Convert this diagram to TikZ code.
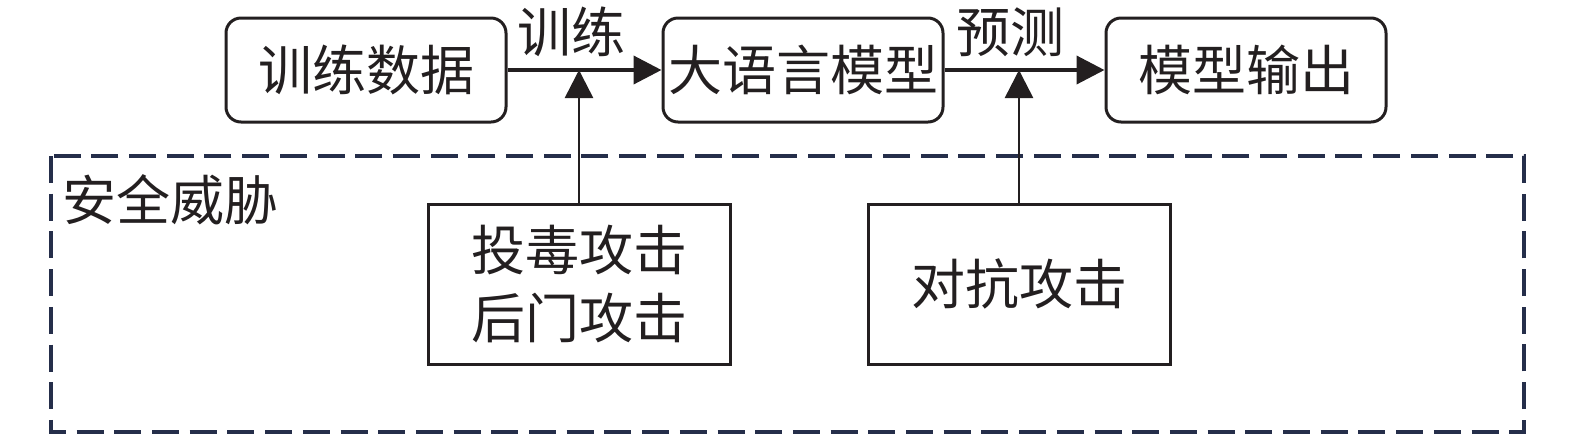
\documentclass[tikz,border=0pt]{standalone}
\usepackage{fontspec}
\setmainfont{Noto Sans CJK SC}
\usetikzlibrary{arrows.meta}
\definecolor{navy}{HTML}{252E4A}
\definecolor{ink}{HTML}{231F20}
\tikzset{
  txt/.style={font=\fontsize{27pt}{34pt}\selectfont, text=ink, inner sep=0pt},
  rbox/.style={txt, draw=ink, line width=1.5pt, rounded corners=7.5pt, minimum width=140pt, minimum height=52pt, align=center},
  sbox/.style={txt, draw=ink, line width=1.5pt, minimum width=151pt, minimum height=80pt, align=center},
  harrow/.style={draw=ink, line width=2pt, -{Triangle[length=14pt, width=14pt]}},
  varrow/.style={draw=ink, line width=1.3pt, -{Triangle[length=14pt, width=14pt]}},
  zone/.style={draw=navy, line width=1.6pt, dash pattern=on 13.5pt off 5.35pt}
}
\begin{document}
\begin{tikzpicture}[x=0.5pt, y=-0.5pt]
\useasboundingbox (0,0) rectangle (1575,435);
\draw[zone] (51,156) rectangle (1524,432);
\node[rbox] (A) at (366,70) {训练数据};
\node[rbox] (B) at (803,70) {大语言模型};
\node[rbox] (C) at (1246,70) {模型输出};
\node[sbox] (D) at (579,284) {投毒攻击\\后门攻击};
\node[sbox] (E) at (1019,284) {对抗攻击};
\node[txt, anchor=west] (zl) at (62,200) {安全威胁};
\node[txt] (l1) at (571,32) {训练};
\node[txt] (l2) at (1010,32) {预测};
\draw[harrow] (A.east) -- (B.west);
\draw[harrow] (B.east) -- (C.west);
\coordinate (t1) at (D.north |- A.east);
\coordinate (t2) at (E.north |- B.east);
\draw[varrow] (D.north) -- (t1);
\draw[varrow] (E.north) -- (t2);
\end{tikzpicture}
\end{document}
